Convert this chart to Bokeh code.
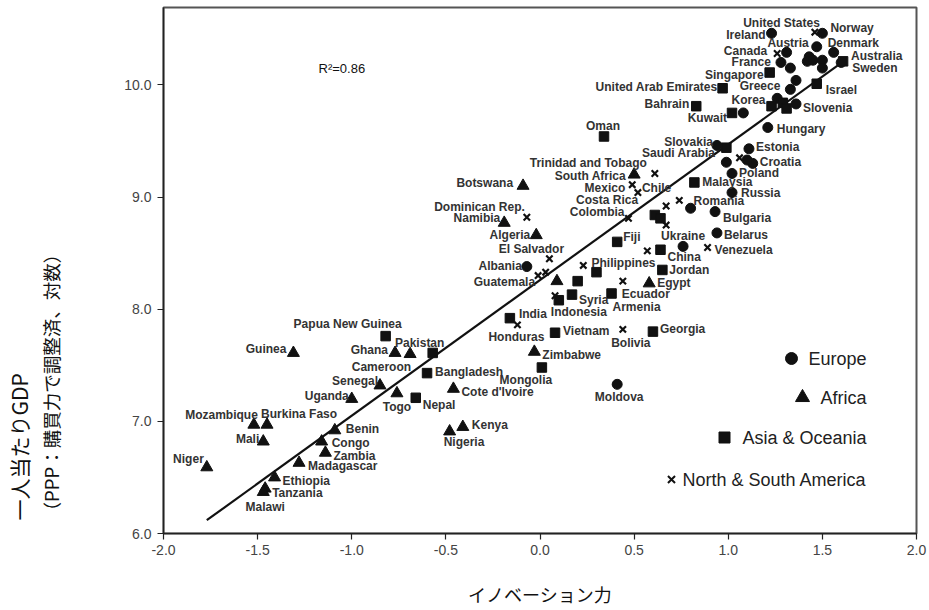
from bokeh.plotting import figure
from bokeh.models import Range1d, FixedTicker, Label, ColumnDataSource, Title
from bokeh.core.properties import value
from bokeh.embed import file_html
from bokeh.resources import INLINE

# ---------------- data ----------------
eu_names = ["Ireland", "Norway", "Austria", "", "Denmark", "France", "", "", "", "", "", "",
            "Sweden", "", "Greece", "", "Slovenia", "", "Hungary", "Slovakia", "Estonia", "",
            "Croatia", "", "Poland", "Russia", "Romania", "Bulgaria", "Belarus", "Ukraine",
            "Albania", "Moldova"]
eu_x = [1.23, 1.50, 1.47, 1.31, 1.56, 1.28, 1.33, 1.43, 1.42, 1.45, 1.50, 1.50,
        1.60, 1.36, 1.33, 1.26, 1.36, 1.08, 1.21, 0.94, 1.11, 0.99,
        1.13, 1.10, 1.02, 1.02, 0.80, 0.93, 0.94, 0.76,
        -0.07, 0.41]
eu_y = [10.46, 10.46, 10.34, 10.29, 10.29, 10.20, 10.15, 10.25, 10.21, 10.22, 10.22, 10.15,
        10.20, 10.04, 9.96, 9.88, 9.83, 9.75, 9.62, 9.46, 9.43, 9.31,
        9.30, 9.33, 9.21, 9.04, 8.90, 8.87, 8.68, 8.56,
        8.38, 7.33]

af_names = ["Botswana", "South Africa", "Namibia", "Algeria", "", "Egypt", "Zimbabwe", "Guinea",
            "Ghana", "Cameroon", "Senegal", "Togo", "Uganda", "Cote d'Ivoire", "Mozambique",
            "Burkina Faso", "Benin", "Kenya", "Nigeria", "Mali", "Congo", "Zambia", "Madagascar",
            "Niger", "Ethiopia", "Tanzania", "Malawi"]
af_x = [-0.09, 0.50, -0.19, -0.02, 0.09, 0.58, -0.03, -1.31,
        -0.77, -0.69, -0.85, -0.76, -1.00, -0.46, -1.52,
        -1.45, -1.09, -0.41, -0.48, -1.47, -1.16, -1.14, -1.28,
        -1.77, -1.41, -1.46, -1.47]
af_y = [9.10, 9.20, 8.77, 8.66, 8.25, 8.23, 7.62, 7.61,
        7.61, 7.60, 7.32, 7.25, 7.20, 7.29, 6.97,
        6.97, 6.92, 6.95, 6.91, 6.82, 6.82, 6.72, 6.63,
        6.59, 6.50, 6.40, 6.37]

as_names = ["Australia", "Singapore", "Israel", "United Arab Emirates", "Korea", "", "",
            "Bahrain", "Kuwait", "Oman", "Saudi Arabia", "Malaysia", "", "", "Fiji", "China",
            "Jordan", "Philippines", "", "Armenia", "Syria", "Indonesia", "India", "Vietnam",
            "Georgia", "Mongolia", "Papua New Guinea", "Pakistan", "Bangladesh", "Nepal"]
as_x = [1.61, 1.22, 1.47, 0.97, 1.23, 1.29, 1.31,
        0.83, 1.02, 0.34, 0.99, 0.82, 0.61, 0.64, 0.41, 0.64,
        0.65, 0.30, 0.20, 0.38, 0.17, 0.10, -0.16, 0.08,
        0.60, 0.01, -0.82, -0.57, -0.60, -0.66]
as_y = [10.21, 10.11, 10.01, 9.97, 9.81, 9.84, 9.79,
        9.81, 9.75, 9.54, 9.44, 9.13, 8.84, 8.81, 8.60, 8.53,
        8.35, 8.33, 8.25, 8.14, 8.13, 8.08, 7.92, 7.79,
        7.80, 7.48, 7.76, 7.61, 7.43, 7.21]

am_names = ["United States", "Canada", "", "Trinidad and Tobago", "Mexico", "Chile", "Costa Rica",
            "", "Colombia", "", "Venezuela", "", "Dominican Rep.", "El Salvador", "", "Guatemala",
            "", "Ecuador", "", "Honduras", "Bolivia"]
am_x = [1.46, 1.26, 1.06, 0.61, 0.49, 0.52, 0.67,
        0.74, 0.47, 0.67, 0.89, 0.57, -0.07, 0.05, 0.23, -0.01,
        0.03, 0.44, 0.08, -0.12, 0.44]
am_y = [10.47, 10.28, 9.35, 9.21, 9.11, 9.04, 8.92,
        8.97, 8.81, 8.75, 8.55, 8.52, 8.82, 8.45, 8.39, 8.30,
        8.33, 8.25, 8.12, 7.86, 7.82]

fit_intercept = 8.26
fit_slope = 1.21
fit_x = [-1.77, 1.61]
r2_text = "R\u00b2=0.86"

x_ticks = [-2.0, -1.5, -1.0, -0.5, 0.0, 0.5, 1.0, 1.5, 2.0]
x_tick_labels = ["-2.0", "-1.5", "-1.0", "-0.5", "0.0", "0.5", "1.0", "1.5", "2.0"]
y_ticks = [6.0, 7.0, 8.0, 9.0, 10.0]
y_tick_labels = ["6.0", "7.0", "8.0", "9.0", "10.0"]

legend_labels = ["Europe", "Africa", "Asia & Oceania", "North & South America"]
x_title = "イノベーション力"
y_title_1 = "一人当たりGDP"
y_title_2 = "（PPP：購買力で調整済、対数）"

# label placement (alignment, pixel offset right, pixel offset down)
label_place = {
    "Ireland": ("r", -6, 2), "Norway": ("l", 8, -5), "Austria": ("r", -8, -4),
    "Denmark": ("l", -6, -9), "France": ("r", -10, 0), "Sweden": ("l", 11, 6),
    "Greece": ("r", -10, -3), "Slovenia": ("l", 7, 4), "Hungary": ("l", 9, 1),
    "Slovakia": ("r", -4, -3), "Estonia": ("l", 7, -2), "Croatia": ("l", 7, -1),
    "Poland": ("l", 7, 0), "Russia": ("l", 9, 0), "Romania": ("l", 3, -7),
    "Bulgaria": ("l", 8, 6), "Belarus": ("l", 7, 2), "Ukraine": ("c", 0, -10),
    "Albania": ("r", -5, -1), "Moldova": ("c", 2, 13),
    "Australia": ("l", 8, -5), "Singapore": ("r", -6, 2), "Israel": ("l", 9, 6),
    "United Arab Emirates": ("r", -5, -1), "Korea": ("r", -6, -6), "Bahrain": ("r", -7, -2),
    "Kuwait": ("r", -5, 5), "Oman": ("c", -1, -10), "Saudi Arabia": ("r", -11, 5),
    "Malaysia": ("l", 8, 0), "Fiji": ("l", 6, -5), "China": ("l", 7, 7),
    "Jordan": ("l", 7, 0), "Philippines": ("l", -5, -9), "Armenia": ("l", 1, 14),
    "Syria": ("l", 7, 5), "Indonesia": ("l", -8, 12), "India": ("l", 9, -4),
    "Vietnam": ("l", 8, -2), "Georgia": ("l", 7, -3), "Mongolia": ("c", -16, 12),
    "Papua New Guinea": ("c", -38, -12), "Pakistan": ("c", -13, -10),
    "Bangladesh": ("l", 8, -1), "Nepal": ("l", 7, 7),
    "Botswana": ("r", -10, -3), "South Africa": ("r", -8, 1), "Namibia": ("r", -4, -5),
    "Algeria": ("r", -6, 0), "Egypt": ("l", 8, 0), "Zimbabwe": ("l", 8, 3),
    "Guinea": ("r", -7, -4), "Ghana": ("r", -7, -3), "Cameroon": ("r", 1, 13),
    "Senegal": ("r", -2, -4), "Togo": ("c", 0, 14), "Uganda": ("r", -3, -3),
    "Cote d'Ivoire": ("l", 8, 3), "Mozambique": ("r", 4, -10), "Burkina Faso": ("l", -6, -11),
    "Benin": ("l", 11, -1), "Kenya": ("l", 9, -2), "Nigeria": ("l", -6, 11),
    "Mali": ("r", -4, -3), "Congo": ("l", 10, 1), "Zambia": ("l", 8, 3),
    "Madagascar": ("l", 9, 3), "Niger": ("r", -3, -8), "Ethiopia": ("l", 8, 4),
    "Tanzania": ("l", 7, 4), "Malawi": ("c", 2, 15),
    "United States": ("r", 5, -9), "Canada": ("r", -10, -2), "Trinidad and Tobago": ("r", -8, -10),
    "Mexico": ("r", -7, 3), "Chile": ("l", 4, -5), "Costa Rica": ("r", -28, -6),
    "Colombia": ("r", -4, -6), "Venezuela": ("l", 7, 2), "Dominican Rep.": ("r", -2, -10),
    "El Salvador": ("c", -18, -10), "Guatemala": ("r", -3, 6), "Ecuador": ("l", -1, 13),
    "Honduras": ("c", -1, 12), "Bolivia": ("c", 8, 14),
}

# ---------------- figure ----------------
X0, X1, Y0, Y1 = -2.0, 2.0, 6.0, 10.69
W, H = 929, 610
ML, MR, MT = 163, 13, 7
MB = H - 533
FW, FH = W - ML - MR, H - MT - MB
PX = FW / (X1 - X0)
PY = FH / (Y1 - Y0)

p = figure(width=W, height=H, x_range=Range1d(X0, X1), y_range=Range1d(Y0, Y1),
           output_backend="svg", toolbar_location=None,
           min_border_left=ML, min_border_right=MR, min_border_top=MT, min_border_bottom=MB)
p.xgrid.visible = False
p.ygrid.visible = False
p.outline_line_color = "#555555"
p.outline_line_width = 2
p.background_fill_color = "white"
p.border_fill_color = "white"

for ax in (p.xaxis, p.yaxis):
    ax.axis_line_color = "#222222"
    ax.axis_line_width = 1.5
    ax.major_tick_line_color = "#222222"
    ax.major_tick_line_width = 1.2
    ax.major_tick_out = 6
    ax.major_tick_in = 0
    ax.minor_tick_line_color = None
    ax.major_label_text_font = "Liberation Sans"
    ax.major_label_text_font_size = "14px"
    ax.major_label_text_color = "#444444"

p.xaxis.ticker = FixedTicker(ticks=x_ticks)
p.xaxis.major_label_overrides = dict(zip(x_ticks, x_tick_labels))
p.yaxis.ticker = FixedTicker(ticks=y_ticks)
p.yaxis.major_label_overrides = dict(zip(y_ticks, y_tick_labels))
p.yaxis.major_label_standoff = 6

p.xaxis.axis_label = x_title
p.xaxis.axis_label_text_font = "Noto Sans CJK JP"
p.xaxis.axis_label_text_font_size = "18px"
p.xaxis.axis_label_text_font_style = "normal"
p.xaxis.axis_label_text_color = "#111111"
p.xaxis.axis_label_text_line_height = 0.6
p.xaxis.axis_label_standoff = 23

# spacer between the y tick labels and the two-line y title
p.yaxis.axis_label = "\u00a0"
p.yaxis.axis_label_text_font_size = "1px"
p.yaxis.axis_label_standoff = 52

# y title lines (inner line first, outer line second)
p.add_layout(Title(text=y_title_2, align="left", offset=13, standoff=4,
                   text_font="Noto Sans CJK JP", text_font_size="18.5px",
                   text_font_style="normal", text_color="#111111"), "left")
p.add_layout(Title(text=y_title_1, align="left", offset=13, standoff=0,
                   text_font="Noto Sans CJK JP", text_font_size="21px",
                   text_font_style="normal", text_color="#111111"), "left")

# regression line
fit_y = [fit_intercept + fit_slope * v for v in fit_x]
p.line(fit_x, fit_y, line_color="#111111", line_width=2.2)

MK = "#111111"
p.scatter(eu_x, eu_y, marker="circle", size=10, fill_color=MK, line_color=MK)
p.scatter(af_x, af_y, marker="triangle", size=12, fill_color=MK, line_color=MK)
p.scatter(as_x, as_y, marker="square", size=9.5, fill_color=MK, line_color=MK)
p.scatter(am_x, am_y, marker="x", size=9, line_color=MK, line_width=2.2)

# country labels
groups = {"l": ([], [], []), "r": ([], [], []), "c": ([], [], [])}
for names, xs, ys in ((eu_names, eu_x, eu_y), (af_names, af_x, af_y),
                      (as_names, as_x, as_y), (am_names, am_x, am_y)):
    for n, xv, yv in zip(names, xs, ys):
        if not n:
            continue
        al, dx, dy = label_place[n]
        g = groups[al]
        g[0].append(xv + dx / PX)
        g[1].append(yv - dy / PY)
        g[2].append(n)
align_map = {"l": "left", "r": "right", "c": "center"}
for k, (gx, gy, gt) in groups.items():
    src = ColumnDataSource(dict(x=gx, y=gy, t=gt))
    p.text(x="x", y="y", text="t", source=src, text_align=align_map[k], text_baseline="middle",
           text_font=value("Liberation Sans"), text_font_style="bold", text_font_size="12px",
           text_color="#333333")

# R^2 annotation
p.add_layout(Label(x=155, y=465, x_units="screen", y_units="screen", text=r2_text,
                   text_align="left", text_baseline="middle", text_font="Liberation Sans",
                   text_font_size="13px", text_color="#111111"))

# custom legend (reference pixel layout -> data)
def to_x(px):
    return X0 + (px - ML) / PX

def to_y(py):
    return Y0 + (533 - py) / PY

leg_rows = [(358, "circle", 12, 791), (397, "triangle", 14, 802), (437, "square", 11, 724),
            (479, "x", 10, 671)]
for (py, mk, sz, mx), lab in zip(leg_rows, legend_labels):
    if mk == "x":
        p.scatter([to_x(mx)], [to_y(py)], marker=mk, size=sz, line_color=MK, line_width=2)
    else:
        p.scatter([to_x(mx)], [to_y(py)], marker=mk, size=sz, fill_color=MK, line_color=MK)
    p.add_layout(Label(x=866 - ML, y=533 - py, x_units="screen", y_units="screen", text=lab,
                       text_align="right", text_baseline="middle", text_font="Liberation Sans",
                       text_font_size="18px", text_color="#222222"))

open("out.html", "w").write(file_html(p, INLINE))
